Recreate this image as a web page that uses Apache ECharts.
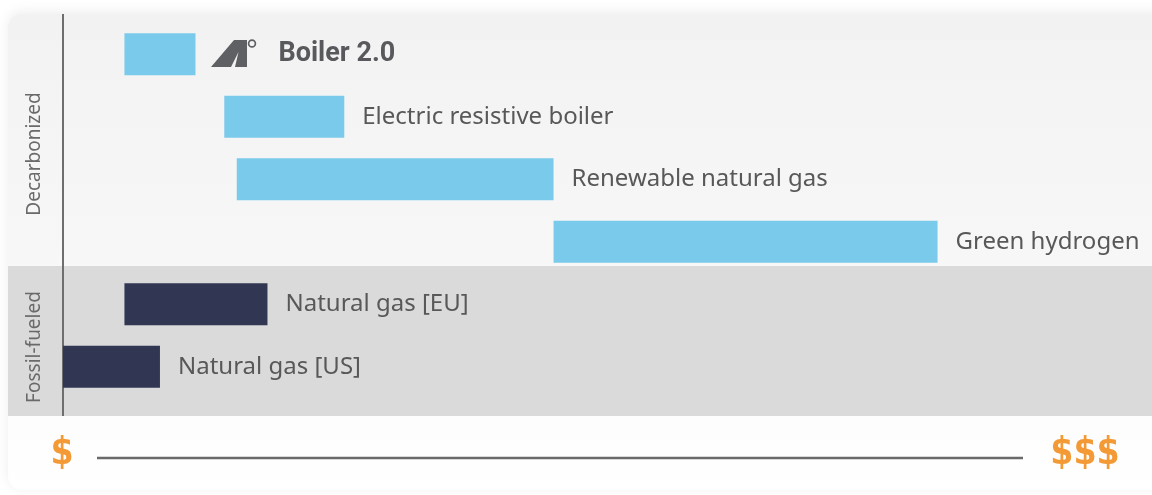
<!DOCTYPE html>
<html>
<head>
<meta charset="utf-8">
<script src="https://cdn.jsdelivr.net/npm/echarts@6/dist/echarts.min.js"></script>
<style>
  html, body { margin: 0; padding: 0; background: #fff; }
  #chart { width: 1152px; height: 495px; }
</style>
</head>
<body>
<div id="chart"></div>
<script>
  // 数据：相对成本（0 = $，100 = $$$）
  const categories = ['Boiler 2.0', 'Electric resistive boiler', 'Renewable natural gas', 'Green hydrogen', 'Natural gas [EU]', 'Natural gas [US]']
  const costLow = [6.4, 16.8, 18.1, 51.1, 6.4, 0]
  const costHigh = [13.8, 29.3, 51.1, 91.1, 21.3, 10.1]
  const groups = ['decarb', 'decarb', 'decarb', 'decarb', 'fossil', 'fossil']
  const groupLabels = ['Decarbonized', 'Fossil-fueled']
  const scaleLabels = ['$', '$$$']

  const colors = { decarb: '#7acbeb', fossil: '#313752' }

  const chart = echarts.init(document.getElementById('chart'))

  const spanData = categories.map((name, i) => {
    const item = {
      value: +(costHigh[i] - costLow[i]).toFixed(2),
      itemStyle: { color: colors[groups[i]] }
    }
    // Boiler 2.0 标签：粗体，留出 logo 位置
    if (i === 0) {
      item.label = {
        distance: 83,
        fontFamily: 'Roboto',
        fontWeight: 'bold',
        fontSize: 27,
        color: '#58595d'
      }
    }
    return item
  })

  const option = {
    animation: false,
    backgroundColor: '#ffffff',
    grid: { left: 63, right: 129, top: 23, bottom: 97 },
    xAxis: {
      type: 'value',
      min: 0,
      max: 100,
      show: false
    },
    yAxis: {
      type: 'category',
      data: categories,
      inverse: true,
      show: false
    },
    graphic: [
      // 卡片背景
      {
        type: 'rect', z: -10,
        shape: { x: 8, y: 14, width: 1170, height: 476, r: 14 },
        style: {
          fill: new echarts.graphic.LinearGradient(0, 0, 0, 1, [
            { offset: 0, color: '#f2f2f2' },
            { offset: 0.5, color: '#f7f7f7' },
            { offset: 1, color: '#ffffff' }
          ]),
          shadowBlur: 12,
          shadowColor: 'rgba(0,0,0,0.07)',
          shadowOffsetY: -2
        }
      },
      // 化石燃料区域
      {
        type: 'rect', z: -9,
        shape: { x: 8, y: 266, width: 1160, height: 150 },
        style: { fill: '#dadada' }
      },
      // 纵轴线
      {
        type: 'line', z: -8,
        shape: { x1: 63, y1: 14, x2: 63, y2: 416 },
        style: { stroke: '#6e6e70', lineWidth: 2 }
      },
      // 分组标签
      {
        type: 'text', z: -8, x: 35, y: 154, rotation: Math.PI / 2,
        style: {
          text: groupLabels[0], fill: '#6a6a6a', fontSize: 19,
          fontFamily: 'Noto Sans', align: 'center', verticalAlign: 'middle'
        }
      },
      {
        type: 'text', z: -8, x: 35, y: 347, rotation: Math.PI / 2,
        style: {
          text: groupLabels[1], fill: '#6a6a6a', fontSize: 19,
          fontFamily: 'Noto Sans', align: 'center', verticalAlign: 'middle'
        }
      },
      // 成本刻度
      {
        type: 'line', z: -8,
        shape: { x1: 97, y1: 458, x2: 1023, y2: 458 },
        style: { stroke: '#6a6a6a', lineWidth: 2.5 }
      },
      {
        type: 'text', z: -8, x: 62, y: 454,
        style: {
          text: scaleLabels[0], fill: '#f39a36', fontSize: 37, fontWeight: 'bold',
          fontFamily: 'DejaVu Sans Condensed', align: 'center', verticalAlign: 'middle'
        }
      },
      {
        type: 'text', z: -8, x: 1085, y: 454,
        style: {
          text: scaleLabels[1], fill: '#f39a36', fontSize: 37, fontWeight: 'bold',
          fontFamily: 'DejaVu Sans Condensed', align: 'center', verticalAlign: 'middle'
        }
      },
      // 4° logo
      {
        type: 'polygon', z: 5,
        shape: { points: [[211, 67], [234, 40], [247, 40], [247, 67], [235, 67], [238.5, 52], [231, 67]] },
        style: { fill: '#5f6064' }
      },
      {
        type: 'circle', z: 5,
        shape: { cx: 252, cy: 43.5, r: 3.4 },
        style: { fill: 'none', stroke: '#5f6064', lineWidth: 1.7 }
      }
    ],
    series: [
      {
        type: 'bar',
        stack: 'cost',
        data: costLow,
        barWidth: 42,
        itemStyle: { color: 'transparent' },
        silent: true
      },
      {
        type: 'bar',
        stack: 'cost',
        data: spanData,
        barWidth: 42,
        label: {
          show: true,
          position: 'right',
          distance: 18,
          formatter: p => p.name,
          fontFamily: 'Noto Sans',
          fontSize: 24,
          color: '#58585a'
        }
      }
    ]
  }

  chart.setOption(option)
</script>
</body>
</html>
